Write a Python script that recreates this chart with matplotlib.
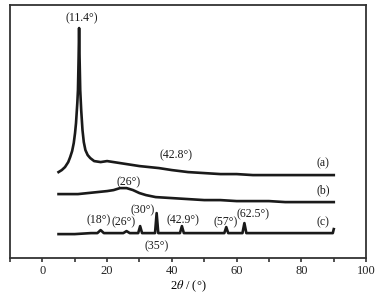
import matplotlib
matplotlib.use("Agg")
import matplotlib.pyplot as plt
from matplotlib.ticker import MultipleLocator

plt.rcParams['font.family'] = ['Liberation Serif', 'DejaVu Serif']
plt.rcParams['mathtext.fontset'] = 'stix'

# XRD patterns, intensity in arbitrary units (offset curves)
a_x = [5, 6, 7, 8, 8.6, 9.2, 9.7, 10.1, 10.4, 10.8, 11.0, 11.2, 11.35, 11.5, 11.7, 12.0, 12.4,
       12.8, 13.3, 14, 14.8, 16, 18, 20, 22, 24, 26, 28, 30, 33, 36, 40, 45, 50, 55, 60, 65,
       70, 75, 80, 85, 90]
a_y = [86, 88, 91, 96, 101, 107, 115, 125, 135, 155, 168, 200, 230, 200, 168, 148, 128,
       116, 108, 103, 100, 97, 96, 97, 96, 95, 94, 93, 92, 91, 90, 88, 86, 85, 84, 84, 83,
       83, 83, 83, 83, 83]

b_x = [5, 8, 11, 14, 17, 20, 22, 24, 26, 28, 30, 32, 35, 40, 45, 50, 55, 60, 65, 70, 75, 80, 85, 90]
b_y = [64, 64, 64, 65, 66, 67, 68, 70, 70, 68, 65, 63, 61, 60, 59, 58, 58, 57, 57, 57, 56, 56, 56, 56]

c_x = [5, 10, 15, 17, 18, 19, 22, 25, 26, 27, 29.6, 30.2, 30.8, 33, 34.8, 35.3, 35.8, 38, 42.5,
       43.1, 43.7, 47, 50, 53, 56.2, 56.8, 57.4, 61.8, 62.4, 63.0, 66, 70, 74, 78, 82, 86, 89,
       89.7, 90]
c_y = [24, 24, 25, 25, 28, 25, 25, 25, 27, 25, 25, 32, 25, 25, 25, 45, 25, 25, 25,
       32, 25, 25, 25, 25, 25, 31, 25, 25, 35, 25, 25, 25, 25, 25, 25, 25, 25,
       25, 29]

# peak labels: text, x, y
labels = [("(11.4°)", 12.3, 240), ("(42.8°)", 41.4, 103), ("(a)", 86.7, 95),
          ("(26°)", 26.5, 76), ("(b)", 86.7, 68),
          ("(30°)", 31.1, 48), ("(18°)", 17.4, 38), ("(26°)", 25.1, 36),
          ("(42.9°)", 43.4, 38), ("(57°)", 56.7, 36), ("(62.5°)", 65.2, 44),
          ("(c)", 86.7, 36), ("(35°)", 35.4, 12)]

fig = plt.figure(figsize=(3.83, 2.96), dpi=100)
ax = fig.add_axes([0.026, 0.128, 0.93, 0.855])

col = '#1a1a1a'
ax.plot(a_x, a_y, color=col, lw=1.9)
ax.plot(b_x, b_y, color=col, lw=1.9)
ax.plot(c_x, c_y, color=col, lw=1.9)

for t, x, y in labels:
    ax.text(x, y, t, fontsize=8.5, ha='center', va='center', color=col)

ax.set_xlim(-10, 100)
ax.set_ylim(0, 253)
ax.xaxis.set_major_locator(MultipleLocator(20))
ax.xaxis.set_minor_locator(MultipleLocator(10))
ax.set_yticks([])
ax.tick_params(axis='x', which='both', direction='out', length=3, width=1.2,
               labelsize=9, pad=2, colors='#333333')
ax.tick_params(axis='x', labelcolor='#222222')
for s in ax.spines.values():
    s.set_linewidth(1.3)
    s.set_color('#333333')
ax.set_xlabel(r"2$\theta$ / (°)", fontsize=9, labelpad=1)

fig.savefig("out.png", dpi=100)
